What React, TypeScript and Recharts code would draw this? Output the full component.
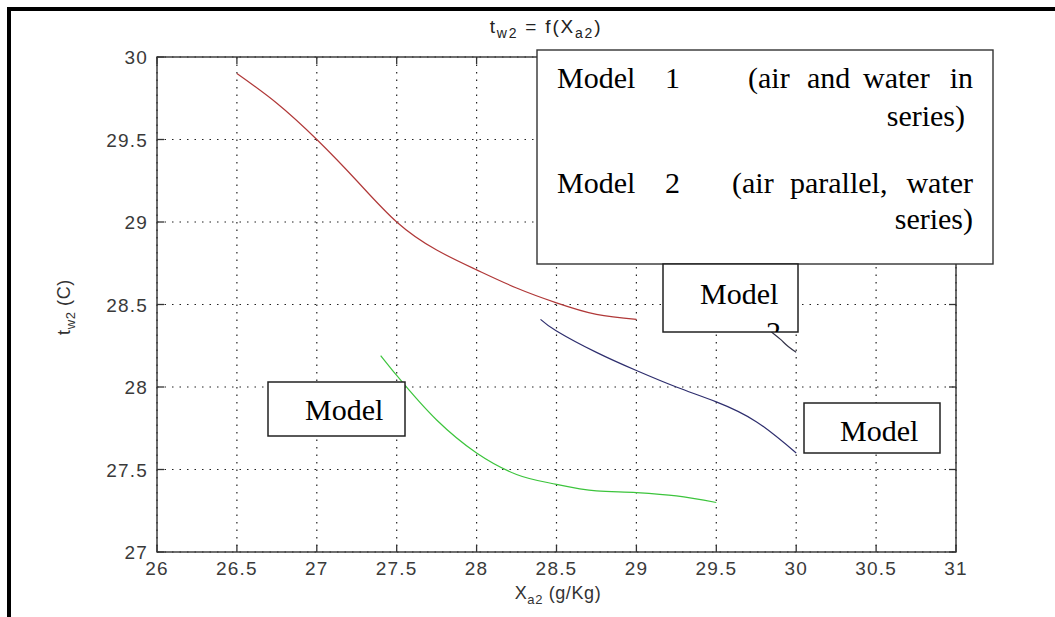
import React from 'react';
import { LineChart, Line, XAxis, YAxis, CartesianGrid } from 'recharts';

// ---- data ----
const xTicks = [26, 26.5, 27, 27.5, 28, 28.5, 29, 29.5, 30, 30.5, 31];
const yTicks = [27, 27.5, 28, 28.5, 29, 29.5, 30];

const redX = [26.5, 26.75, 27, 27.25, 27.5, 27.75, 28, 28.25, 28.5, 28.75, 29];
const redY = [29.9, 29.72, 29.5, 29.25, 29.0, 28.83, 28.71, 28.6, 28.51, 28.44, 28.41];

const blueX = [28.4, 28.5, 28.75, 29, 29.25, 29.5, 29.75, 30];
const blueY = [28.41, 28.34, 28.21, 28.1, 28.0, 27.91, 27.79, 27.6];

const greenX = [27.4, 27.5, 27.75, 28, 28.25, 28.5, 28.75, 29, 29.25, 29.5];
const greenY = [28.19, 28.07, 27.8, 27.6, 27.47, 27.41, 27.37, 27.36, 27.34, 27.3];

const grayX = [29.6, 29.75, 29.85, 29.9, 29.95, 30];
const grayY = [28.52, 28.41, 28.33, 28.29, 28.245, 28.21];

const toData = (xs: number[], ys: number[]) => xs.map((x, i) => ({ x, y: ys[i] }));
const redData = toData(redX, redY);
const blueData = toData(blueX, blueY);
const greenData = toData(greenX, greenY);
const grayData = toData(grayX, grayY);

// ---- layout ----
const W = 1055;
const H = 617;
const PL = 157;
const PR = 956;
const PT = 57;
const PB = 552;
const TICK = 7;

const SANS = "'Liberation Sans', Arial, sans-serif";
const SERIF = "'Liberation Serif', 'Times New Roman', serif";

const XTick = (props: any) => {
  const { x, payload } = props;
  return (
    <g>
      <line x1={x} x2={x} y1={PB} y2={PB - TICK} stroke="#333" strokeWidth={1.3} />
      <line x1={x} x2={x} y1={PT} y2={PT + TICK} stroke="#333" strokeWidth={1.3} />
      <text x={x} y={PB + 23} textAnchor="middle" fontFamily={SANS} fontSize={19} letterSpacing={1.2} fill="#3a3a3a">
        {String(payload.value)}
      </text>
    </g>
  );
};

const YTick = (props: any) => {
  const { y, payload } = props;
  return (
    <g>
      <line x1={PL} x2={PL + TICK} y1={y} y2={y} stroke="#333" strokeWidth={1.3} />
      <line x1={PR} x2={PR - TICK} y1={y} y2={y} stroke="#333" strokeWidth={1.3} />
      <text x={148} y={y + 7} textAnchor="end" fontFamily={SANS} fontSize={19} letterSpacing={1.2} fill="#3a3a3a">
        {String(payload.value)}
      </text>
    </g>
  );
};

export default function App() {
  return (
    <div style={{ position: 'fixed', left: 0, top: 0, width: W, height: H, background: '#fff', overflow: 'hidden' }}>
      <div style={{ position: 'absolute', left: 0, top: 0 }}>
        <LineChart width={W} height={H} margin={{ top: PT, right: W - PR, bottom: H - PB - 30, left: PL - 60 }}>
          <CartesianGrid stroke="#222" strokeDasharray="1.5 6" strokeWidth={1.2} />
          <XAxis
            dataKey="x"
            type="number"
            domain={[26, 31]}
            ticks={xTicks}
            interval={0}
            allowDataOverflow
            axisLine={false}
            tickLine={false}
            tick={XTick}
            height={30}
          />
          <YAxis
            type="number"
            domain={[27, 30]}
            ticks={yTicks}
            interval={0}
            allowDataOverflow
            axisLine={false}
            tickLine={false}
            tick={YTick}
            width={60}
          />
          <Line data={redData} dataKey="y" type="natural" stroke="#b03838" strokeWidth={1.2} dot={false} isAnimationActive={false} />
          <Line data={blueData} dataKey="y" type="natural" stroke="#2e2e6e" strokeWidth={1.2} dot={false} isAnimationActive={false} />
          <Line data={greenData} dataKey="y" type="monotone" stroke="#3cc43c" strokeWidth={1.2} dot={false} isAnimationActive={false} />
          <Line data={grayData} dataKey="y" type="monotone" stroke="#333348" strokeWidth={1.2} dot={false} isAnimationActive={false} />
        </LineChart>
      </div>
      <svg width={W} height={H} style={{ position: 'absolute', left: 0, top: 0, pointerEvents: 'none' }}>
        <defs>
          <clipPath id="box2clip">
            <rect x={663} y={264} width={135} height={68} />
          </clipPath>
        </defs>
        {/* plot frame */}
        <rect x={PL} y={PT} width={PR - PL} height={PB - PT} fill="none" stroke="#333" strokeWidth={1.4} />
        {/* title */}
        <text x={546} y={33} textAnchor="middle" fontFamily={SANS} fontSize={19} letterSpacing={1.8} fill="#222">
          <tspan>t</tspan>
          <tspan dy={5} fontSize={14}>w2</tspan>
          <tspan dy={-5}> = f(X</tspan>
          <tspan dy={5} fontSize={14}>a2</tspan>
          <tspan dy={-5}>)</tspan>
        </text>
        {/* x label */}
        <text x={558} y={599} textAnchor="middle" fontFamily={SANS} fontSize={18} letterSpacing={0.6} fill="#333">
          <tspan>X</tspan>
          <tspan dy={5} fontSize={13}>a2</tspan>
          <tspan dy={-5}> (g/Kg)</tspan>
        </text>
        {/* y label */}
        <text x={70} y={307} textAnchor="middle" fontFamily={SANS} fontSize={18} letterSpacing={0.6} fill="#333" transform="rotate(-90 70 307)">
          <tspan>t</tspan>
          <tspan dy={5} fontSize={13}>w2</tspan>
          <tspan dy={-5}> (C)</tspan>
        </text>
        {/* legend box */}
        <rect x={537} y={50} width={456} height={214} fill="#fff" stroke="#333" strokeWidth={1.4} />
        <g fontFamily={SERIF} fontSize={30} fill="#000">
          <text x={557} y={88}>Model</text>
          <text x={665} y={88}>1</text>
          <text x={748} y={88}>(air</text>
          <text x={807} y={88}>and</text>
          <text x={863} y={88}>water</text>
          <text x={973} y={88} textAnchor="end">in</text>
          <text x={965} y={126} textAnchor="end">series)</text>
          <text x={557} y={193}>Model</text>
          <text x={665} y={193}>2</text>
          <text x={732} y={193}>(air</text>
          <text x={790} y={193}>parallel,</text>
          <text x={973} y={193} textAnchor="end">water</text>
          <text x={973} y={229} textAnchor="end">series)</text>
        </g>
        {/* label boxes */}
        <rect x={663} y={264} width={135} height={68} fill="#fff" stroke="#222" strokeWidth={1.5} />
        <g clipPath="url(#box2clip)">
          <text x={700} y={304} fontFamily={SERIF} fontSize={30} fill="#000">Model</text>
          <text x={766} y={342} fontFamily={SERIF} fontSize={30} fill="#000">2</text>
        </g>
        <rect x={268} y={382} width={137} height={54} fill="#fff" stroke="#222" strokeWidth={1.5} />
        <text x={305} y={420} fontFamily={SERIF} fontSize={30} fill="#000">Model</text>
        <rect x={804} y={403} width={136} height={50} fill="#fff" stroke="#222" strokeWidth={1.5} />
        <text x={840} y={441} fontFamily={SERIF} fontSize={30} fill="#000">Model</text>
      </svg>
      {/* outer page border */}
      <div style={{ position: 'absolute', left: 7, top: 7, width: W - 7, height: 4, background: '#000' }} />
      <div style={{ position: 'absolute', left: 7, top: 7, width: 4, height: H - 7, background: '#000' }} />
    </div>
  );
}
